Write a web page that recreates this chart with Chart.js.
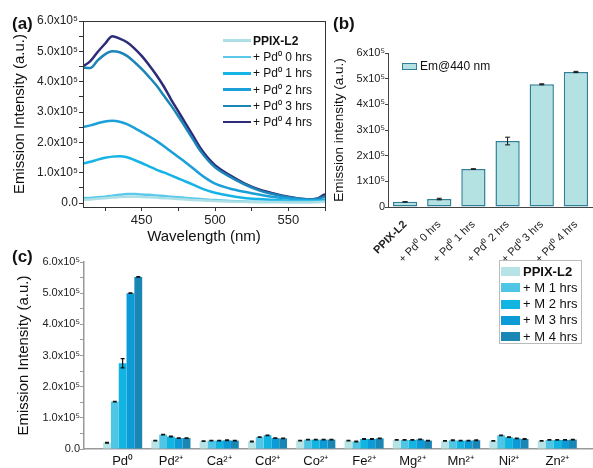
<!DOCTYPE html>
<html>
<head>
<meta charset="utf-8">
<script src="https://cdn.jsdelivr.net/npm/chart.js@4.4.1/dist/chart.umd.min.js"></script>
<style>
  body { margin: 0; background: #fff; }
  #wrap { position: relative; width: 593px; height: 468px; overflow: hidden; font-family: "Liberation Sans", Arial, sans-serif; color: #111; }
  canvas { position: absolute; }
  .tag { position: absolute; font-weight: bold; font-size: 17px; line-height: 17px; }
  .lg { position: absolute; white-space: nowrap; }
</style>
</head>
<body>
<div id="wrap">
  <canvas id="chartA" width="335" height="250" style="left:0;top:0"></canvas>
  <canvas id="chartB" width="265" height="262" style="left:328px;top:0"></canvas>
  <canvas id="chartC" width="593" height="223" style="left:0;top:245px"></canvas>
  <div class="tag" style="left:12px;top:15px">(a)</div>
  <div class="tag" style="left:333px;top:15px">(b)</div>
  <div class="tag" style="left:12px;top:248px">(c)</div>
  <div id="legendA"></div>
  <div id="legendB"></div>
  <div id="legendC" style="position:absolute;left:499px;top:260px;width:81px;height:82px;border:1px solid #bbb;"></div>
</div>
<script>
Chart.defaults.font.family = '"Liberation Sans", Arial, sans-serif';
Chart.defaults.color = '#111';

// ---- (a) emission spectra, intensity in units of 1e5 ----
const wavelengths = [410, 415, 420, 425, 430, 435, 440, 445, 450, 455, 460, 465, 470, 475, 480, 485, 490, 495, 500, 510, 520, 530, 540, 550, 560, 565, 570, 575];
const specPPIX = [0.11, 0.12, 0.14, 0.16, 0.18, 0.20, 0.21, 0.21, 0.20, 0.19, 0.18, 0.16, 0.15, 0.13, 0.12, 0.10, 0.09, 0.08, 0.07, 0.05, 0.04, 0.03, 0.03, 0.02, 0.02, 0.02, 0.03, 0.04];
const spec0h = [0.16, 0.17, 0.19, 0.21, 0.24, 0.27, 0.30, 0.30, 0.28, 0.27, 0.25, 0.23, 0.21, 0.19, 0.17, 0.15, 0.13, 0.11, 0.10, 0.07, 0.05, 0.04, 0.04, 0.04, 0.04, 0.04, 0.04, 0.05];
const spec1h = [1.30, 1.36, 1.43, 1.49, 1.53, 1.54, 1.51, 1.42, 1.32, 1.21, 1.10, 1.01, 0.91, 0.81, 0.71, 0.61, 0.50, 0.41, 0.34, 0.24, 0.17, 0.13, 0.10, 0.08, 0.07, 0.07, 0.07, 0.09];
const spec2h = [2.51, 2.56, 2.63, 2.69, 2.71, 2.68, 2.60, 2.48, 2.34, 2.20, 2.05, 1.88, 1.70, 1.52, 1.34, 1.15, 0.95, 0.78, 0.64, 0.48, 0.37, 0.28, 0.20, 0.15, 0.10, 0.09, 0.09, 0.12];
const spec3h = [4.46, 4.45, 4.70, 4.90, 5.00, 4.97, 4.85, 4.65, 4.42, 4.16, 3.88, 3.55, 3.22, 2.86, 2.48, 2.10, 1.72, 1.42, 1.18, 0.87, 0.62, 0.42, 0.29, 0.19, 0.13, 0.12, 0.14, 0.22];
const spec4h = [4.50, 4.68, 4.98, 5.25, 5.50, 5.42, 5.30, 5.10, 4.85, 4.55, 4.22, 3.85, 3.42, 3.02, 2.62, 2.22, 1.82, 1.50, 1.25, 0.92, 0.65, 0.45, 0.32, 0.21, 0.13, 0.12, 0.15, 0.30];
const seriesA = ['PPIX-L2', '+ Pd⁰ 0 hrs', '+ Pd⁰ 1 hrs', '+ Pd⁰ 2 hrs', '+ Pd⁰ 3 hrs', '+ Pd⁰ 4 hrs'];
const colorsA = ['#ade0e6', '#5cc9ea', '#16b4e6', '#1a9fd8', '#1c85b7', '#2c2c78'];
const curvesA = [specPPIX, spec0h, spec1h, spec2h, spec3h, spec4h];

// ---- (b) emission at 440 nm ----
const labelsB = ['PPIX-L2', '+ Pd⁰ 0 hrs', '+ Pd⁰ 1 hrs', '+ Pd⁰ 2 hrs', '+ Pd⁰ 3 hrs', '+ Pd⁰ 4 hrs'];
const valuesB = [0.20, 0.31, 1.48, 2.57, 4.78, 5.26];
const errorsB = [0.005, 0.03, 0.01, 0.15, 0.02, 0.025];

// ---- (c) metal ion screen ----
const metals = ['Pd⁰', 'Pd²⁺', 'Ca²⁺', 'Cd²⁺', 'Co²⁺', 'Fe²⁺', 'Mg²⁺', 'Mn²⁺', 'Ni²⁺', 'Zn²⁺'];
const seriesC = ['PPIX-L2', '+ M 1 hrs', '+ M 2 hrs', '+ M 3 hrs', '+ M 4 hrs'];
const colorsC = ['#b5e3e6', '#4fc6e6', '#12b4e2', '#0c9bd6', '#1a86b4'];
const barPPIX = [0.20, 0.27, 0.25, 0.24, 0.27, 0.27, 0.29, 0.26, 0.26, 0.26];
const bar1h = [1.52, 0.46, 0.27, 0.38, 0.30, 0.24, 0.29, 0.28, 0.44, 0.29];
const bar2h = [2.75, 0.40, 0.27, 0.44, 0.30, 0.32, 0.29, 0.27, 0.38, 0.29];
const bar3h = [5.00, 0.35, 0.28, 0.35, 0.30, 0.32, 0.31, 0.27, 0.34, 0.29];
const bar4h = [5.52, 0.35, 0.27, 0.34, 0.30, 0.34, 0.27, 0.28, 0.32, 0.30];
const err1h = [0.01, 0.01, 0.01, 0.01, 0.01, 0.01, 0.01, 0.01, 0.01, 0.01];
const err2h = [0.15, 0.01, 0.01, 0.01, 0.01, 0.01, 0.01, 0.01, 0.01, 0.01];
const errSmall = [0.01, 0.01, 0.01, 0.01, 0.01, 0.01, 0.01, 0.01, 0.01, 0.01];
const barsC = [barPPIX, bar1h, bar2h, bar3h, bar4h];
const errsC = [errSmall, err1h, err2h, errSmall, errSmall];

const halfSteps = [0, 0.5, 1, 1.5, 2, 2.5, 3, 3.5, 4, 4.5, 5, 5.5, 6];

// box around the plot area
const frame = {
  id: 'frame',
  afterDraw(chart) {
    const { ctx, chartArea: a } = chart;
    ctx.save();
    ctx.strokeStyle = '#333';
    ctx.lineWidth = 1;
    ctx.strokeRect(a.left + 0.5, a.top + 0.5, a.right - a.left, a.bottom - a.top);
    ctx.restore();
  }
};

// error bars from dataset.errors
const errorBars = {
  id: 'errorBars',
  afterDatasetsDraw(chart, args, opts) {
    const ctx = chart.ctx;
    ctx.save();
    ctx.strokeStyle = '#111';
    ctx.lineWidth = opts.lineWidth || 1;
    chart.data.datasets.forEach((ds, di) => {
      if (!ds.errors) return;
      const meta = chart.getDatasetMeta(di);
      const yScale = chart.scales[meta.yAxisID];
      meta.data.forEach((bar, i) => {
        const raw = ds.data[i];
        const v = typeof raw === 'object' ? raw.y : raw;
        const hi = yScale.getPixelForValue(v + ds.errors[i]);
        const lo = yScale.getPixelForValue(v - ds.errors[i]);
        const w = opts.cap;
        ctx.beginPath();
        ctx.moveTo(bar.x, hi); ctx.lineTo(bar.x, lo);
        ctx.moveTo(bar.x - w, hi); ctx.lineTo(bar.x + w, hi);
        ctx.moveTo(bar.x - w, lo); ctx.lineTo(bar.x + w, lo);
        ctx.stroke();
      });
    });
    ctx.restore();
  }
};

// Panel (a)
new Chart(document.getElementById('chartA'), {
  type: 'line',
  data: {
    datasets: curvesA.map((c, k) => ({
      label: seriesA[k],
      data: wavelengths.map((w, i) => ({ x: w, y: c[i] })),
      borderColor: colorsA[k],
      borderWidth: 2.5,
      pointRadius: 0,
      cubicInterpolationMode: 'monotone',
      fill: false
    }))
  },
  options: {
    responsive: false,
    animation: false,
    layout: { padding: { top: 21, right: 10, left: 0, bottom: 0 } },
    plugins: { legend: { display: false }, tooltip: { enabled: false } },
    scales: {
      x: {
        type: 'linear', min: 410, max: 575,
        afterBuildTicks: s => { s.ticks = [425, 450, 475, 500, 525, 550, 575].map(v => ({ value: v })); },
        afterFit: s => { s.height = 43; },
        grid: { drawOnChartArea: false, tickLength: 4, color: '#333' },
        border: { color: '#333' },
        ticks: { autoSkip: false, maxRotation: 0, padding: 2, font: { size: 13 }, color: '#222',
          callback: v => (v % 50 === 0 ? v : '') },
        title: { display: true, text: 'Wavelength (nm)', font: { size: 15 }, color: '#111', padding: { top: 0, bottom: 4 } }
      },
      y: {
        min: -0.13, max: 6,
        afterBuildTicks: s => { s.ticks = halfSteps.map(v => ({ value: v })); },
        afterFit: s => { s.width = 83; },
        grid: { drawOnChartArea: false, tickLength: 4, color: '#333' },
        border: { color: '#333' },
        ticks: { autoSkip: false, padding: 1, font: { size: 12 }, color: '#222',
          callback: v => (v % 1 === 0 ? (v === 0 ? '0.0' : v.toFixed(1) + 'x10⁵') : '') },
        title: { display: true, text: 'Emission Intensity (a.u.)', font: { size: 15 }, color: '#111', padding: { top: 11, bottom: 0 } }
      }
    }
  },
  plugins: [frame]
});

// Panel (b)
new Chart(document.getElementById('chartB'), {
  type: 'bar',
  data: {
    labels: labelsB,
    datasets: [{
      label: 'Em@440 nm',
      data: valuesB,
      errors: errorsB,
      backgroundColor: '#b4e1e1',
      borderColor: '#2f7f98',
      borderWidth: 1.5,
      borderSkipped: false,
      barPercentage: 0.71,
      categoryPercentage: 1
    }]
  },
  options: {
    responsive: false,
    animation: false,
    layout: { padding: { top: 53, right: 0, left: 0, bottom: 0 } },
    plugins: { legend: { display: false }, tooltip: { enabled: false }, errorBars: { cap: 2.5, lineWidth: 1 } },
    scales: {
      x: {
        afterFit: s => { s.height = 55; },
        grid: { display: false },
        border: { color: '#444' },
        ticks: { autoSkip: false, minRotation: 45, maxRotation: 45, padding: 3, color: '#222',
          font: c => ({ size: 11, weight: c.index === 0 ? 'bold' : 'normal' }) }
      },
      y: {
        min: 0, max: 6,
        afterBuildTicks: s => { s.ticks = [0, 1, 2, 3, 4, 5, 6].map(v => ({ value: v })); },
        afterFit: s => { s.width = 60; },
        grid: { drawOnChartArea: false, tickLength: 3, color: '#444' },
        border: { color: '#444' },
        ticks: { padding: 0, font: { size: 11 }, color: '#222',
          callback: v => (v === 0 ? '0' : v + 'x10⁵') },
        title: { display: true, text: 'Emission intensity (a.u.)', font: { size: 13.5 }, color: '#111', padding: { top: 3, bottom: 0 } }
      }
    }
  },
  plugins: [errorBars]
});

// Panel (c)
new Chart(document.getElementById('chartC'), {
  type: 'bar',
  data: {
    datasets: barsC.map((vals, k) => ({
      label: seriesC[k],
      data: vals.map((v, i) => ({ x: i, y: v })),
      errors: errsC[k],
      backgroundColor: colorsC[k],
      borderWidth: 0,
      barPercentage: 1,
      categoryPercentage: 0.81
    }))
  },
  options: {
    responsive: false,
    animation: false,
    layout: { padding: { top: 17, right: 1, left: 0, bottom: 0 } },
    plugins: { legend: { display: false }, tooltip: { enabled: false }, errorBars: { cap: 2, lineWidth: 1.2 } },
    scales: {
      x: {
        type: 'linear', min: -0.8, max: 9.72, offset: false,
        afterBuildTicks: s => { s.ticks = metals.map((m, i) => ({ value: i })); },
        afterFit: s => { s.height = 19; },
        grid: { drawOnChartArea: false, drawTicks: false, offset: false },
        border: { color: '#999', width: 1.5 },
        ticks: { autoSkip: false, maxRotation: 0, padding: 5, font: { size: 13 }, color: '#111',
          callback: (v, i) => metals[i] }
      },
      y: {
        min: 0, max: 6,
        afterBuildTicks: s => { s.ticks = halfSteps.map(v => ({ value: v })); },
        afterFit: s => { s.width = 84; },
        grid: { drawOnChartArea: false, tickLength: 4, color: '#999' },
        border: { color: '#999', width: 1.5 },
        ticks: { autoSkip: false, padding: 0, font: { size: 11 }, color: '#222',
          callback: v => (v % 1 === 0 ? (v === 0 ? '0.0' : v.toFixed(1) + 'x10⁵') : '') },
        title: { display: true, text: 'Emission Intensity (a.u.)', font: { size: 15 }, color: '#111', padding: { top: 15, bottom: 0 } }
      }
    }
  },
  plugins: [errorBars]
});

// HTML legends
const legendA = document.getElementById('legendA');
seriesA.forEach((name, i) => {
  const y = 40.7 + i * 16.3;
  legendA.insertAdjacentHTML('beforeend',
    `<div class="lg" style="left:223px;top:${y - 1.25}px;width:28px;height:2.5px;background:${colorsA[i]}"></div>` +
    `<div class="lg" style="left:253px;top:${y - 7}px;font-size:12px;line-height:14px;${i === 0 ? 'font-weight:bold' : ''}">${name}</div>`);
});

document.getElementById('legendB').innerHTML =
  `<div class="lg" style="left:402px;top:63px;width:13px;height:5px;background:#b4e1e1;border:1.2px solid #2f7f98"></div>` +
  `<div class="lg" style="left:420px;top:59px;font-size:12px;line-height:14px">Em@440 nm</div>`;

const legendC = document.getElementById('legendC');
seriesC.forEach((name, i) => {
  const y = 10.7 + i * 16.2;
  legendC.insertAdjacentHTML('beforeend',
    `<div class="lg" style="left:1px;top:${y - 4.5}px;width:19px;height:9px;background:${colorsC[i]}"></div>` +
    `<div class="lg" style="left:23px;top:${y - 8}px;font-size:13px;line-height:16px;${i === 0 ? 'font-weight:bold' : ''}">${name}</div>`);
});
</script>
</body>
</html>
